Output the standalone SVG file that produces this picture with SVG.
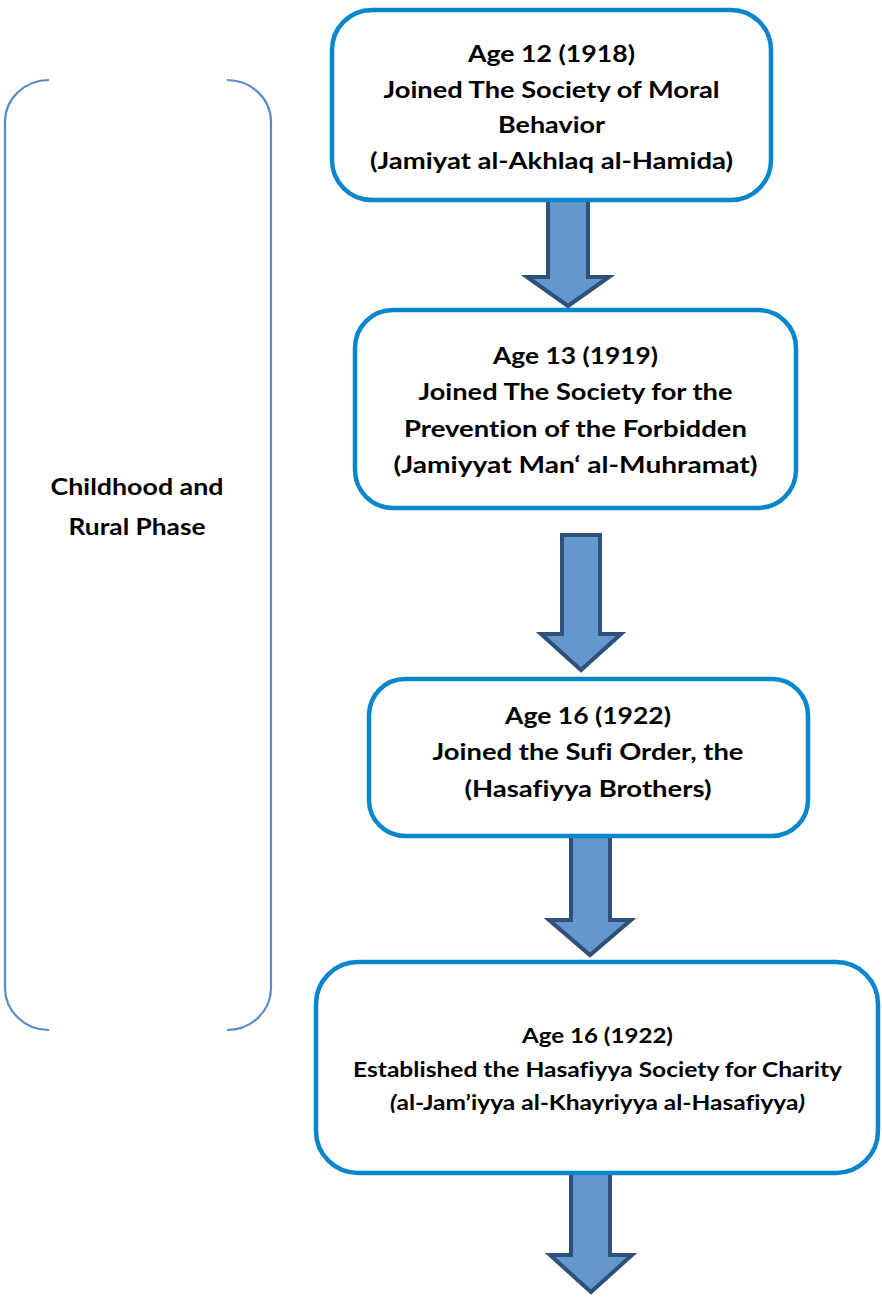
<svg xmlns="http://www.w3.org/2000/svg" width="882" height="1298" viewBox="0 0 882 1298">
<style>
.box{fill:#ffffff;stroke:#0a86cc;stroke-width:4.5}
.arrow{fill:#6497cb;stroke:#2f5079;stroke-width:4;stroke-linejoin:miter}
.brk{fill:none;stroke:#5a8ac8;stroke-width:2.2}
text{font-family:Lato,"Open Sans","Liberation Sans",sans-serif;font-weight:bold;fill:#000;text-anchor:middle;font-variant-ligatures:none}
.t{font-size:23.5px}
.s{font-size:21.5px}
</style>
<rect width="882" height="1298" fill="#ffffff"/>
<g id="connectors">
<polygon class="arrow" points="548,200 588,200 588,277 609,277 568,306 527,277 548,277"/>
<polygon class="arrow" points="562,535 600,535 600,634 621,634 581,670 541,634 562,634"/>
<polygon class="arrow" points="571,836 610,836 610,920 631,920 590,955 549,920 571,920"/>
<polygon class="arrow" points="571,1171 610,1171 610,1255 632,1255 591,1292 550,1255 571,1255"/>
</g>
<g id="phase">
<path class="brk" d="M49,80 A44,42 0 0 0 5,122 L5,988 A44,42 0 0 0 49,1030"/>
<path class="brk" d="M227,80 A44,42 0 0 1 271,122 L271,988 A44,42 0 0 1 227,1030"/>
<text class="t" x="137" y="495" textLength="173" lengthAdjust="spacingAndGlyphs">Childhood and</text>
<text class="t" x="137" y="535" textLength="137" lengthAdjust="spacingAndGlyphs">Rural Phase</text>
</g>
<g id="node1">
<rect class="box" x="332" y="10" width="439" height="190" rx="40"/>
<text class="t" x="551.5" y="62" textLength="167" lengthAdjust="spacingAndGlyphs">Age 12 (1918)</text>
<text class="t" x="551.5" y="98" textLength="336" lengthAdjust="spacingAndGlyphs">Joined The Society of Moral</text>
<text class="t" x="551.5" y="133" textLength="107" lengthAdjust="spacingAndGlyphs">Behavior</text>
<text class="t" x="551.5" y="169" textLength="363" lengthAdjust="spacingAndGlyphs">(Jamiyat al-Akhlaq al-Hamida)</text>
</g>
<g id="node2">
<rect class="box" x="355" y="310" width="441" height="198" rx="38"/>
<text class="t" x="575.5" y="364" textLength="165" lengthAdjust="spacingAndGlyphs">Age 13 (1919)</text>
<text class="t" x="575.5" y="400" textLength="314" lengthAdjust="spacingAndGlyphs">Joined The Society for the</text>
<text class="t" x="575.5" y="437" textLength="343" lengthAdjust="spacingAndGlyphs">Prevention of the Forbidden</text>
<text class="t" x="575.5" y="473" textLength="364" lengthAdjust="spacingAndGlyphs">(Jamiyyat Man‘ al-Muhramat)</text>
</g>
<g id="node3">
<rect class="box" x="369" y="679" width="439" height="157" rx="36"/>
<text class="t" x="588" y="724" textLength="166" lengthAdjust="spacingAndGlyphs">Age 16 (1922)</text>
<text class="t" x="588" y="760" textLength="311" lengthAdjust="spacingAndGlyphs">Joined the Sufi Order, the</text>
<text class="t" x="588" y="797" textLength="247" lengthAdjust="spacingAndGlyphs">(Hasafiyya Brothers)</text>
</g>
<g id="node4">
<rect class="box" x="316" y="962" width="562" height="211" rx="42"/>
<text class="s" x="597.5" y="1043" textLength="151" lengthAdjust="spacingAndGlyphs">Age 16 (1922)</text>
<text class="s" x="597.5" y="1077" textLength="489" lengthAdjust="spacingAndGlyphs">Established the Hasafiyya Society for Charity</text>
<text class="s" x="597.5" y="1110" textLength="415" lengthAdjust="spacingAndGlyphs"><tspan font-style="italic">(</tspan>al-Jam’iyya al-Khayriyya al-Hasafiyya<tspan font-style="italic">)</tspan></text>
</g>
</svg>
